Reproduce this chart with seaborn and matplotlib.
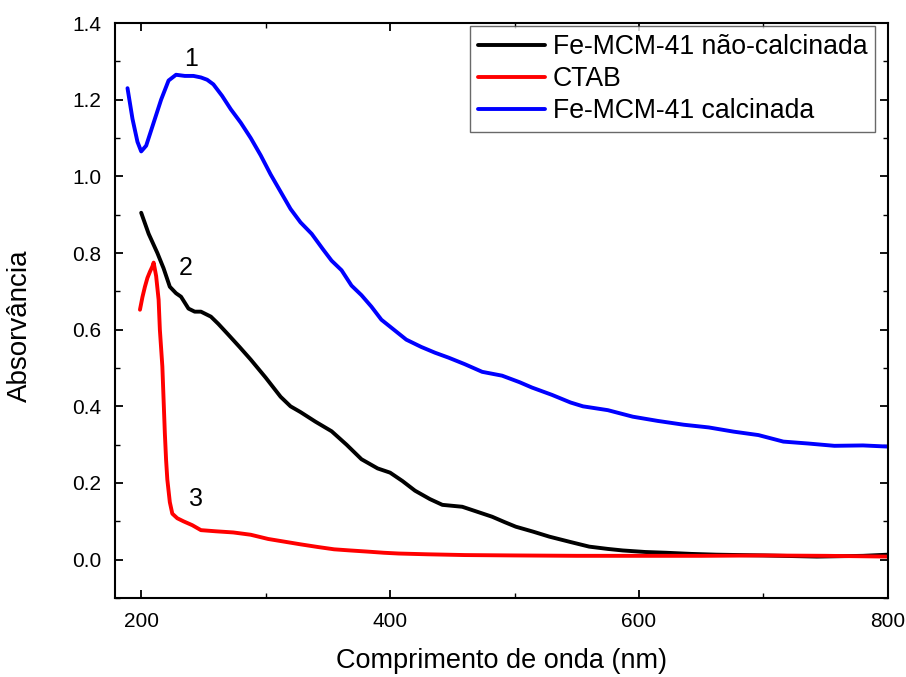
import numpy as np
import pandas as pd
import matplotlib
matplotlib.use("Agg")
import matplotlib.pyplot as plt
import seaborn as sns
from matplotlib.ticker import MultipleLocator, FormatStrFormatter

# Data
calc_x = [189, 193, 197, 200, 204, 210, 216, 222, 228, 235, 242, 248, 253, 258, 265, 272, 280, 288,
          296, 304, 312, 320, 328, 337, 346, 353, 361, 369, 377, 385, 393, 403, 413, 425, 436, 447,
          460, 474, 490, 504, 514, 530, 545, 555, 575, 595, 615, 636, 656, 676, 696, 716, 736, 757,
          780, 800]
calc_y = [1.23, 1.15, 1.09, 1.065, 1.08, 1.14, 1.20, 1.25, 1.265, 1.262, 1.262, 1.258, 1.252, 1.24,
          1.21, 1.175, 1.14, 1.10, 1.055, 1.005, 0.96, 0.915, 0.88, 0.85, 0.81, 0.78, 0.755, 0.715,
          0.69, 0.66, 0.626, 0.60, 0.574, 0.555, 0.54, 0.527, 0.51, 0.49, 0.48, 0.463, 0.449, 0.43,
          0.41, 0.40, 0.39, 0.373, 0.362, 0.352, 0.345, 0.334, 0.325, 0.308, 0.303, 0.297, 0.298, 0.295]

nc_x = [200, 206, 213, 218, 223, 228, 232, 238, 243, 248, 256, 262, 270, 279, 288, 300, 312, 320,
        328, 340, 353, 365, 377, 390, 400, 410, 420, 432, 442, 458, 470, 482, 492, 501, 515, 528,
        545, 560, 575, 587, 605, 622, 642, 662, 700, 743, 780, 800]
nc_y = [0.905, 0.85, 0.80, 0.76, 0.712, 0.695, 0.686, 0.655, 0.647, 0.647, 0.634, 0.615, 0.587, 0.555,
        0.522, 0.475, 0.425, 0.40, 0.385, 0.36, 0.335, 0.30, 0.262, 0.238, 0.227, 0.205, 0.18, 0.158,
        0.143, 0.138, 0.125, 0.112, 0.098, 0.086, 0.073, 0.06, 0.046, 0.034, 0.028, 0.024, 0.02,
        0.018, 0.015, 0.013, 0.011, 0.008, 0.01, 0.013]

ctab_x = [199, 201, 203, 205, 207, 209, 210, 212, 214, 215, 217, 218, 219, 220, 221, 223, 225, 229,
          234, 241, 248, 260, 274, 288, 302, 315, 328, 342, 355, 368, 382, 395, 407, 430, 460, 500,
          550, 600, 650, 700, 750, 800]
ctab_y = [0.652, 0.685, 0.712, 0.735, 0.751, 0.765, 0.775, 0.74, 0.678, 0.60, 0.504, 0.417, 0.33,
          0.26, 0.209, 0.15, 0.12, 0.108, 0.10, 0.09, 0.077, 0.074, 0.071, 0.065, 0.054, 0.047, 0.04,
          0.033, 0.027, 0.024, 0.021, 0.018, 0.016, 0.014, 0.012, 0.011, 0.01, 0.01, 0.01, 0.011,
          0.01, 0.008]

series_names = ["Fe-MCM-41 não-calcinada", "CTAB", "Fe-MCM-41 calcinada"]
series_colors = ["#000000", "#ff0000", "#0000ff"]
peak_labels = ["1", "2", "3"]
peak_label_x = [240, 236, 244]
peak_label_y = [1.305, 0.762, 0.157]

sns.set_theme(style="ticks")
plt.rcParams["font.family"] = ["Liberation Sans", "DejaVu Sans"]
plt.rcParams["text.color"] = "black"
plt.rcParams["axes.labelcolor"] = "black"

fig = plt.figure(figsize=(9.06, 6.77), dpi=100)
ax = fig.add_axes([0.127, 0.1167, 0.853, 0.8493])

data_sets = [(nc_x, nc_y), (ctab_x, ctab_y), (calc_x, calc_y)]
for (xs, ys), name, col in zip(data_sets, series_names, series_colors):
    sns.lineplot(x=xs, y=ys, ax=ax, color=col, linewidth=2.8, label=name, sort=False)

for t, tx, ty in zip(peak_labels, peak_label_x, peak_label_y):
    ax.text(tx, ty, t, fontsize=18, ha="center", va="center", color="black")

ax.set_xlim(179, 800)
ax.set_ylim(-0.1, 1.4)
ax.xaxis.set_major_locator(MultipleLocator(200))
ax.xaxis.set_minor_locator(MultipleLocator(100))
ax.yaxis.set_major_locator(MultipleLocator(0.2))
ax.yaxis.set_minor_locator(MultipleLocator(0.1))
ax.yaxis.set_major_formatter(FormatStrFormatter("%.1f"))
ax.tick_params(which="both", direction="in", top=True, right=True, labelsize=15,
               colors="black", labelcolor="black")
ax.tick_params(which="major", length=6, width=1.3, pad=10)
ax.tick_params(which="minor", length=3.5, width=1.0)
for sp in ax.spines.values():
    sp.set_linewidth(1.5)
    sp.set_color("black")

ax.set_xlabel("Comprimento de onda (nm)", fontsize=19.5, labelpad=12)
ax.set_ylabel("Absorvância", fontsize=20)
ax.yaxis.set_label_coords(-0.106, 0.473)

leg = ax.legend(loc="upper right", bbox_to_anchor=(0.9835, 0.9945), fontsize=19.2, frameon=True,
                fancybox=False, edgecolor="#444444", borderpad=0.3, labelspacing=0.22,
                handlelength=2.5, handletextpad=0.3, borderaxespad=0.0)
leg.get_frame().set_linewidth(1.0)
for txt in leg.get_texts():
    txt.set_color("black")

fig.savefig("out.png", dpi=100)
